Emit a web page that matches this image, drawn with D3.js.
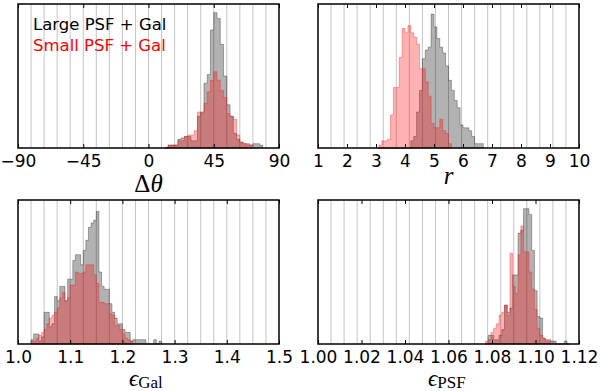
<!DOCTYPE html>
<html>
<head>
<meta charset="utf-8">
<script src="https://cdn.jsdelivr.net/npm/d3@7"></script>
<style>
  body { margin: 0; background: #fff; }
</style>
</head>
<body>
<div id="chart"></div>
<script>
// ---- data (bar heights) ----
var thetaTicks = [-90, -45, 0, 45, 90];
var thetaTickLabels = ["\u221290", "\u221245", "0", "45", "90"];
var thetaBinStart = 11.25, thetaBinWidth = 2.25;
var thetaLarge = [0, 2, 2, 2, 6, 7, 8, 8, 5, 5, 22, 25, 45, 51, 82, 94, 90, 72, 50, 30, 22, 10, 6, 4, 3, 3, 2, 3, 3, 2];
var thetaSmall = [0, 2, 2, 2, 5, 5, 8, 9, 9, 12, 25, 24, 31, 39, 47, 53, 47, 40, 35, 24, 22, 20, 9, 4, 3, 2, 2];

var rTicks = [1, 2, 3, 4, 5, 6, 7, 8, 9, 10];
var rTickLabels = ["1", "2", "3", "4", "5", "6", "7", "8", "9", "10"];
var rBinStart = 3.1, rBinWidth = 0.1;
var rLarge = [0, 0, 0, 0, 0, 0, 0, 0, 0, 0, 0, 5, 8, 25, 40, 62, 68, 70, 93, 84, 76, 70, 66, 57, 47, 40, 33, 28, 16, 14, 14, 12, 8, 3, 3, 3];
var rSmall = [2, 5, 5, 6, 23, 42, 42, 63, 83, 80, 85, 80, 77, 72, 55, 55, 46, 36, 17, 14, 14, 20, 12, 10, 3];

var eGalTicks = [1.0, 1.1, 1.2, 1.3, 1.4, 1.5];
var eGalTickLabels = ["1.0", "1.1", "1.2", "1.3", "1.4", "1.5"];
var eGalBinStart = 1.025, eGalBinWidth = 0.005;
var eGalLarge = [3, 7, 7, 2, 5, 22, 22, 12, 14, 33, 30, 40, 40, 30, 45, 45, 58, 62, 62, 55, 65, 72, 81, 84, 86, 92, 50, 40, 38, 38, 28, 22, 18, 14, 14, 10, 8, 8, 2, 3, 3, 3, 3, 3, 0, 0, 0, 3, 0, 2];
var eGalSmall = [2, 2, 4, 6, 8, 10, 14, 18, 20, 22, 25, 32, 36, 30, 32, 41, 41, 50, 49, 49, 50, 55, 55, 55, 48, 42, 29, 29, 28, 28, 21, 20, 13, 13, 10, 7, 4, 3, 2];

var ePSFTicks = [1.00, 1.02, 1.04, 1.06, 1.08, 1.10, 1.12];
var ePSFTickLabels = ["1.00", "1.02", "1.04", "1.06", "1.08", "1.10", "1.12"];
var ePSFBinStart = 1.077, ePSFBinWidth = 0.00125;
var ePSFLarge = [0, 6, 6, 3, 3, 6, 10, 27, 22, 25, 48, 48, 77, 79, 94, 94, 90, 65, 37, 19, 18, 4, 3, 3, 2, 2, 0, 0, 0, 2, 0];
var ePSFSmall = [2, 3, 8, 11, 14, 20, 22, 27, 20, 63, 40, 35, 62, 82, 64, 64, 50, 38, 24, 11, 6, 4, 2, 2];

var seriesNames = ["Large PSF + Gal", "Small PSF + Gal"];
var seriesColors = ["black", "red"];

// ---- layout ----
var W = 600, H = 391;
var colX = [[18, 279], [318, 579]];
var rowY = [[4, 148], [200, 344]];

var svg = d3.select("#chart").append("svg")
    .attr("width", W)
    .attr("height", H);

function drawPanel(p) {
    var x = d3.scaleLinear().domain(p.domain).range([p.x0, p.x1]);
    var y = d3.scaleLinear().domain([0, 100]).range([p.y1, p.y0]);
    var g = svg.append("g");

    // light vertical grid, 20 divisions
    var grid = d3.range(1, 20).map(function (k) { return p.domain[0] + k * (p.domain[1] - p.domain[0]) / 20; });
    g.selectAll(".grid").data(grid).enter().append("line")
        .attr("x1", function (d) { return x(d); })
        .attr("x2", function (d) { return x(d); })
        .attr("y1", p.y0).attr("y2", p.y1)
        .attr("stroke", "#c4c4c4")
        .attr("stroke-width", 1);

    // step histograms
    var area = d3.area()
        .curve(d3.curveStepAfter)
        .x(function (d) { return x(d[0]); })
        .y0(y(0))
        .y1(function (d) { return y(d[1]); });

    [p.large, p.small].forEach(function (vals, k) {
        var pts = vals.map(function (v, i) { return [p.binStart + i * p.binWidth, v]; });
        pts.push([p.binStart + vals.length * p.binWidth, vals[vals.length - 1]]);
        g.append("path")
            .datum(pts)
            .attr("d", area)
            .attr("fill", seriesColors[k])
            .attr("fill-opacity", 0.3)
            .attr("stroke", seriesColors[k])
            .attr("stroke-opacity", 0.3)
            .attr("stroke-width", 1);
    });

    // ticks inside, top and bottom
    var bottom = d3.axisBottom(x).tickValues(p.ticks).tickSizeInner(-4).tickSizeOuter(0)
        .tickFormat(function (d, i) { return p.tickLabels[i]; });
    var ga = g.append("g").attr("transform", "translate(0," + p.y1 + ")").call(bottom);
    ga.select(".domain").remove();
    ga.selectAll("text")
        .attr("font-family", "DejaVu Sans")
        .attr("font-size", "17px")
        .attr("fill", "black")
        .attr("dy", "0")
        .attr("y", 19);
    ga.selectAll("line").attr("stroke", "black");

    var top = d3.axisTop(x).tickValues(p.ticks).tickSizeInner(-4).tickSizeOuter(0).tickFormat("");
    var gt = g.append("g").attr("transform", "translate(0," + p.y0 + ")").call(top);
    gt.select(".domain").remove();
    gt.selectAll("line").attr("stroke", "black");

    // frame
    g.append("rect")
        .attr("x", p.x0).attr("y", p.y0)
        .attr("width", p.x1 - p.x0).attr("height", p.y1 - p.y0)
        .attr("fill", "none")
        .attr("stroke", "black")
        .attr("stroke-width", 1.5);

    // axis label (math)
    var t = g.append("text")
        .attr("x", p.labelX)
        .attr("y", p.labelY)
        .attr("text-anchor", p.labelAnchor)
        .attr("font-family", "Liberation Serif, DejaVu Serif, serif")
        .attr("font-size", p.labelSize + "px");
    p.label.forEach(function (part) {
        var s = t.append("tspan").text(part.t);
        if (part.italic) s.attr("font-style", "italic");
        if (part.sub) s.attr("font-size", "17px").attr("dy", "2.5");
    });
}

drawPanel({
    domain: [-90, 90], ticks: thetaTicks, tickLabels: thetaTickLabels,
    binStart: thetaBinStart, binWidth: thetaBinWidth, large: thetaLarge, small: thetaSmall,
    x0: colX[0][0], x1: colX[0][1], y0: rowY[0][0], y1: rowY[0][1],
    label: [{ t: "\u0394" }, { t: "\u03b8", italic: true }],
    labelX: 148.5, labelY: 192, labelAnchor: "middle", labelSize: 25
});
drawPanel({
    domain: [1, 10], ticks: rTicks, tickLabels: rTickLabels,
    binStart: rBinStart, binWidth: rBinWidth, large: rLarge, small: rSmall,
    x0: colX[1][0], x1: colX[1][1], y0: rowY[0][0], y1: rowY[0][1],
    label: [{ t: "r", italic: true }],
    labelX: 448.5, labelY: 184, labelAnchor: "middle", labelSize: 25
});
drawPanel({
    domain: [1.0, 1.5], ticks: eGalTicks, tickLabels: eGalTickLabels,
    binStart: eGalBinStart, binWidth: eGalBinWidth, large: eGalLarge, small: eGalSmall,
    x0: colX[0][0], x1: colX[0][1], y0: rowY[1][0], y1: rowY[1][1],
    label: [{ t: "\u03f5", italic: true }, { t: "Gal", sub: true }],
    labelX: 129, labelY: 385.5, labelAnchor: "start", labelSize: 23
});
drawPanel({
    domain: [1.0, 1.12], ticks: ePSFTicks, tickLabels: ePSFTickLabels,
    binStart: ePSFBinStart, binWidth: ePSFBinWidth, large: ePSFLarge, small: ePSFSmall,
    x0: colX[1][0], x1: colX[1][1], y0: rowY[1][0], y1: rowY[1][1],
    label: [{ t: "\u03f5", italic: true }, { t: "PSF", sub: true }],
    labelX: 428, labelY: 385.5, labelAnchor: "start", labelSize: 23
});

// legend as plain text
svg.selectAll(".legend").data(seriesNames).enter().append("text")
    .attr("x", 33)
    .attr("y", function (d, i) { return 30 + i * 21; })
    .attr("font-family", "DejaVu Sans")
    .attr("font-size", "16.5px")
    .attr("fill", function (d, i) { return i === 0 ? "black" : "red"; })
    .text(function (d) { return d; });
</script>
</body>
</html>
